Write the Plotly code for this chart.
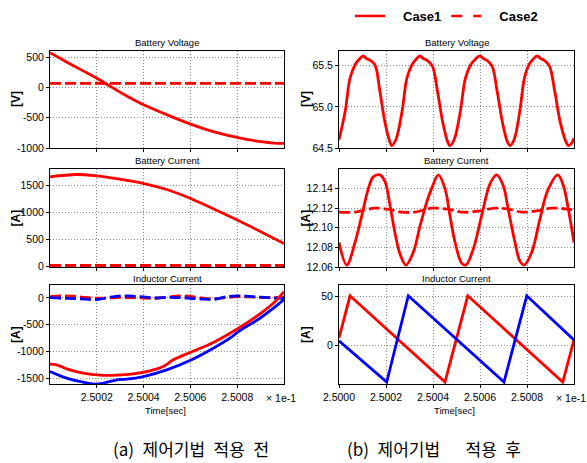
import plotly.graph_objects as go

W, H = 587, 463

# ---------------- data (time in microseconds after 2.5000 x1e-1 s) ----------------
# (a) before control
lv_t = [0, 71, 142, 200, 265, 330, 402, 499, 601, 702, 803, 910, 955, 1000]
lv_case1 = [571, 420, 272, 150, 0, -145, -290, -450, -606, -735, -830, -900, -918, -925]
lv2_t = [0, 250, 500, 750, 1000]
lv_case2 = [65, 65, 65, 65, 65]

lc_t = [0, 113, 200, 299, 402, 499, 601, 702, 803, 903, 1000]
lc_case1 = [1654, 1698, 1672, 1611, 1531, 1420, 1254, 1056, 852, 635, 420]
lc2_t = [0, 250, 500, 750, 1000]
lc_case2 = [13, 13, 13, 13, 13]

li_red_t = [0, 28, 71, 142, 214, 285, 356, 427, 484, 527, 598, 698, 805, 897, 954, 1000]
li_red_case1 = [-1239, -1252, -1326, -1407, -1445, -1445, -1420, -1364, -1283, -1158, -1021, -834, -567, -299, -100, 118]
li_blue_t = [0, 71, 142, 199, 228, 285, 327, 399, 499, 598, 698, 769, 805, 897, 954, 1000]
li_blue_case1 = [-1376, -1501, -1575, -1613, -1594, -1532, -1519, -1470, -1345, -1171, -940, -753, -629, -380, -193, -25]
li_d_t = [0, 50, 100, 150, 200, 250, 300, 350, 400, 450, 500, 550, 600, 650, 700, 750, 800, 850, 900, 950, 1000]
li_red_case2 = [25, 40, 35, 10, -5, 0, 10, 5, 0, -5, 15, 40, 30, 0, -15, 5, 25, 20, 10, 5, 15]
li_blue_case2 = [5, -5, -10, -20, -30, 10, 40, 35, 20, 0, 10, 5, -5, -20, -25, 20, 40, 30, 15, 0, -5]

# (b) after control
rv_t = [0, 26, 47, 68, 86, 103, 116, 131, 153, 174, 195, 216, 224,
        242, 268, 289, 310, 328, 345, 358, 373, 397, 419, 441, 462, 472,
        490, 516, 538, 560, 580, 600, 613, 628, 651, 673, 695, 716, 728,
        745, 769, 789, 808, 826, 844, 857, 872, 895, 918, 941, 965, 976, 990, 1000]
rv_case1 = [64.60, 64.94, 65.35, 65.51, 65.58, 65.62, 65.59, 65.57, 65.51, 65.19, 64.82, 64.58, 64.53,
            64.60, 64.94, 65.35, 65.51, 65.58, 65.62, 65.59, 65.57, 65.50, 65.19, 64.82, 64.58, 64.53,
            64.60, 64.94, 65.35, 65.51, 65.58, 65.62, 65.59, 65.57, 65.50, 65.19, 64.82, 64.58, 64.53,
            64.60, 64.94, 65.35, 65.51, 65.58, 65.62, 65.59, 65.57, 65.50, 65.19, 64.82, 64.58, 64.53, 64.56, 64.62]

rc_t = [0, 33, 68, 97, 125, 146, 174, 196, 217, 238, 260, 285, 316, 345, 373, 394, 423, 451, 472, 494,
        522, 540, 571, 607, 643, 671, 699, 720, 749, 770, 788, 820, 855, 888, 931, 955, 976, 1000]
rc_case1 = [12.085, 12.062, 12.085, 12.1125, 12.140, 12.152, 12.154, 12.147, 12.123, 12.095,
            12.073, 12.062, 12.075, 12.102, 12.126, 12.140, 12.154, 12.140, 12.1125, 12.085,
            12.064, 12.062, 12.078, 12.1125, 12.145, 12.154, 12.143, 12.119, 12.085, 12.066,
            12.062, 12.075, 12.109, 12.138, 12.154, 12.143, 12.119, 12.085]
rc2_t = [0, 68, 153, 208, 268, 323, 394, 464, 522, 592, 664, 720, 778, 835, 905, 974, 1000]
rc_case2 = [12.116, 12.116, 12.120, 12.119, 12.116, 12.116, 12.120, 12.119, 12.116, 12.117,
            12.120, 12.119, 12.116, 12.117, 12.120, 12.119, 12.118]

ri_red_t = [0, 47, 451, 548, 952, 1000]
ri_red_case1 = [8, 51, -37, 51, -37, 6]
ri_blue_t = [0, 203, 295, 702, 799, 1000]
ri_blue_case1 = [5, -37, 51, -37, 51, 6]

# tick labels
x_ticks_a = [2.5002, 2.5004, 2.5006, 2.5008]
x_ticks_b = [2.5000, 2.5002, 2.5004, 2.5006, 2.5008]
y1_ticks = [-1000, -500, 0, 500]
y2_ticks = [64.5, 65.0, 65.5]
y3_ticks = [0, 500, 1000, 1500]
y4_ticks = [12.06, 12.08, 12.10, 12.12, 12.14]
y5_ticks = [-1500, -1000, -500, 0]
y6_ticks = [0, 50]

RED = "#ff0000"
BLUE = "#0000ff"
DASH = "11px,4px"

def fx(p):
    return p / W

def fy(p):
    return 1 - p / H

fig = go.Figure()

def add(xa, ya, t, v, color, dash=None, shape="linear"):
    fig.add_trace(go.Scatter(
        x=[2.5 + u * 1e-6 for u in t], y=v, mode="lines", xaxis=xa, yaxis=ya,
        line=dict(color=color, width=2.8, dash=dash, shape=shape),
        showlegend=False, hoverinfo="skip"))

add("x", "y", lv2_t, lv_case2, RED, DASH)
add("x", "y", lv_t, lv_case1, RED, None, "spline")
add("x2", "y2", rv_t, rv_case1, RED, None, "spline")
add("x3", "y3", lc2_t, lc_case2, RED, DASH)
add("x3", "y3", lc_t, lc_case1, RED, None, "spline")
add("x4", "y4", rc2_t, rc_case2, RED, DASH, "spline")
add("x4", "y4", rc_t, rc_case1, RED, None, "spline")
add("x5", "y5", li_d_t, li_red_case2, RED, DASH, "spline")
add("x5", "y5", li_d_t, li_blue_case2, BLUE, DASH, "spline")
add("x5", "y5", li_blue_t, li_blue_case1, BLUE, None, "spline")
add("x5", "y5", li_red_t, li_red_case1, RED, None, "spline")
add("x6", "y6", ri_red_t, ri_red_case1, RED)
add("x6", "y6", ri_blue_t, ri_blue_case1, BLUE)

# legend entries
fig.add_trace(go.Scatter(x=[None], y=[None], mode="lines", name="\u2003Case1",
                         line=dict(color=RED, width=2.5), xaxis="x2", yaxis="y2"))
fig.add_trace(go.Scatter(x=[None], y=[None], mode="lines", name="\u2003Case2",
                         line=dict(color=RED, width=2.5, dash="11px,11px"), xaxis="x2", yaxis="y2"))

tickfont = dict(family="Liberation Sans, Arial, sans-serif", size=10.5, color="#000")
common = dict(showline=True, mirror=True, linecolor="#000", linewidth=1,
              showgrid=True, gridcolor="#8c8c8c", griddash="1px,2px", gridwidth=1,
              zeroline=False, ticks="outside", ticklen=3, tickcolor="#000",
              tickfont=tickfont, fixedrange=True, automargin=False)

def fmt(v, d):
    return f"{v:.{d}f}"

xa_dom = [fx(50), fx(284)]
xb_dom = [fx(339), fx(574)]
r1 = [fy(148), fy(51)]
r2 = [fy(267), fy(169)]
r3 = [fy(384), fy(285)]

def xax(dom, anchor, ticks, show):
    return dict(domain=dom, anchor=anchor, range=[2.5, 2.501], tickvals=ticks,
                ticktext=[fmt(v, 4) for v in ticks], showticklabels=show, **common)

def yax(dom, anchor, rng, ticks, d):
    return dict(domain=dom, anchor=anchor, range=rng, tickvals=ticks,
                ticktext=[fmt(v, d) for v in ticks], **common)

fig.update_layout(
    width=W, height=H, margin=dict(l=0, r=0, t=0, b=0, autoexpand=False),
    paper_bgcolor="white", plot_bgcolor="white",
    xaxis=xax(xa_dom, "y", x_ticks_a, False),
    xaxis2=xax(xb_dom, "y2", x_ticks_b, False),
    xaxis3=xax(xa_dom, "y3", x_ticks_a, False),
    xaxis4=xax(xb_dom, "y4", x_ticks_b, False),
    xaxis5=xax(xa_dom, "y5", x_ticks_a, True),
    xaxis6=xax(xb_dom, "y6", x_ticks_b, True),
    yaxis=yax(r1, "x", [-1000, 600], y1_ticks, 0),
    yaxis2=yax(r1, "x2", [64.5, 65.68], y2_ticks, 1),
    yaxis3=yax(r2, "x3", [-15, 1800], y3_ticks, 0),
    yaxis4=yax(r2, "x4", [12.06, 12.16], y4_ticks, 2),
    yaxis5=yax(r3, "x5", [-1610, 243], y5_ticks, 0),
    yaxis6=yax(r3, "x6", [-39, 62], y6_ticks, 0),
    legend=dict(orientation="h", x=fx(350), y=fy(16), xanchor="left", yanchor="middle",
                font=dict(family="Liberation Sans, Arial", size=13,
                          color="#000", weight="bold"),
                itemwidth=30, bgcolor="rgba(0,0,0,0)"),
)

ann = []
def text(x, y, s, size=9.5, bold=False, angle=0, family="Liberation Sans, Arial, sans-serif", xanchor="center"):
    ann.append(dict(x=fx(x), y=fy(y), xref="paper", yref="paper", text=s, showarrow=False,
                    xanchor=xanchor, yanchor="middle", textangle=angle,
                    font=dict(family=family, size=size, color="#000",
                              weight="bold" if bold else "normal")))

for cx in (167, 456.5):
    text(cx, 42.5, "Battery Voltage")
    text(cx, 160, "Battery Current")
    text(cx, 278.5, "Inductor Current")
    text(cx - 2, 410.5, "Time[sec]")
text(281, 397.5, "× 1e-1", size=10.5)
text(571, 397.5, "× 1e-1", size=10.5)
for lx in (15.5, 305.5):
    text(lx, 99.5, "[V]", size=12, bold=True, angle=-90)
    text(lx, 218, "[A]", size=12, bold=True, angle=-90)
    text(lx, 334.5, "[A]", size=12, bold=True, angle=-90)
text(191, 448, "(a)\u2002제어기법\u2002적용\u2002전", size=17, family="Noto Sans CJK KR")
text(434, 448, "(b)\u2002제어기법\u2003\u2002적용\u2002후", size=17, family="Noto Sans CJK KR")
fig.update_layout(annotations=ann)

fig.write_html("out.html", config={"displayModeBar": False},
               post_script="document.body.style.margin='0px';document.body.style.overflow='hidden';")
